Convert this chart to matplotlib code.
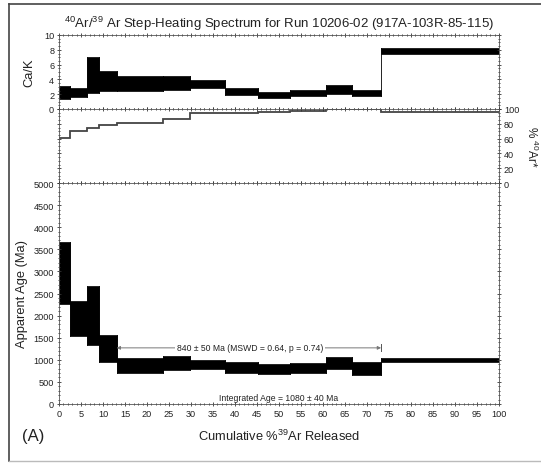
import numpy as np
import matplotlib.pyplot as plt
from matplotlib.patches import Rectangle
from matplotlib.lines import Line2D
from matplotlib.ticker import MultipleLocator

plt.rcParams['font.family'] = ['Liberation Sans', 'DejaVu Sans']
plt.rcParams['mathtext.default'] = 'regular'

# step boundaries, cumulative % 39Ar released
step_edges = [0, 2.5, 6.4, 9.1, 13.1, 23.7, 29.8, 37.7, 45.3, 52.5, 60.7, 66.7, 73.2, 100]
# Ca/K box limits per step
cak_lo = [1.3, 1.6, 2.1, 2.5, 2.5, 2.6, 2.8, 1.9, 1.5, 1.8, 2.0, 1.7, 7.5]
cak_hi = [3.1, 2.9, 7.0, 5.1, 4.5, 4.4, 3.9, 2.9, 2.3, 2.6, 3.3, 2.6, 8.2]
# % radiogenic 40Ar per step
ar_rad = [61, 70.5, 75, 78, 81, 86, 94, 94, 95.5, 97, 99.5, 99.5, 96.5]
# apparent age box limits per step (Ma)
age_lo = [2270, 1540, 1330, 950, 700, 770, 800, 710, 680, 710, 785, 650, 950]
age_hi = [3670, 2320, 2660, 1570, 1040, 1080, 1000, 960, 900, 920, 1060, 945, 1030]

plateau_start, plateau_end, plateau_level = 13.1, 73.2, 1270
plateau_text = "840 ± 50 Ma (MSWD = 0.64, p = 0.74)"
integrated_text = "Integrated Age = 1080 ± 40 Ma"

W, H = 541, 464
fig = plt.figure(figsize=(W / 100, H / 100), dpi=100)

def px_axes(x0, y0, x1, y1):
    return fig.add_axes([x0 / W, 1 - y1 / H, (x1 - x0) / W, (y1 - y0) / H])

ax_ck = px_axes(59, 36, 499, 110)
ax_ar = px_axes(59, 110, 499, 184)
ax_age = px_axes(59, 184, 499, 405)

tick_col = '#333333'
for ax in (ax_ck, ax_ar, ax_age):
    ax.set_xlim(0, 100)
    ax.xaxis.set_major_locator(MultipleLocator(5))
    ax.xaxis.set_minor_locator(MultipleLocator(1))
    ax.tick_params(which='both', direction='inout', top=True, right=True,
                   colors=tick_col, labelsize=6.6, pad=2)
    ax.tick_params(which='major', length=3, width=0.6)
    ax.tick_params(which='minor', length=1.8, width=0.6)
    for s in ax.spines.values():
        s.set_color('#555555')
        s.set_linewidth(0.6)
    ax.tick_params(labelcolor='#222222')

def draw_boxes(ax, lo, hi):
    for i in range(len(lo)):
        x0, x1 = step_edges[i], step_edges[i + 1]
        ax.add_patch(Rectangle((x0, lo[i]), x1 - x0, hi[i] - lo[i],
                               facecolor='black', edgecolor='black', lw=0.5))
        if i < len(lo) - 1:
            ymin = min(lo[i], lo[i + 1])
            ymax = max(hi[i], hi[i + 1])
            ax.plot([x1, x1], [ymin, ymax], color='black', lw=0.6)

# Ca/K panel
ax_ck.set_ylim(0, 10)
ax_ck.yaxis.set_major_locator(MultipleLocator(2))
ax_ck.yaxis.set_minor_locator(MultipleLocator(0.5))
ax_ck.tick_params(labelbottom=False)
draw_boxes(ax_ck, cak_lo, cak_hi)
ax_ck.set_ylabel('Ca/K', fontsize=9.3, color='#222222', labelpad=6)
ax_ck.set_title('$^{40}$Ar/$^{39}$ Ar Step-Heating Spectrum for Run 10206-02 (917A-103R-85-115)',
                fontsize=9.5, color='#222222', pad=6)

# % 40Ar* panel
ax_ar.set_ylim(0, 100)
ax_ar.yaxis.set_major_locator(MultipleLocator(20))
ax_ar.yaxis.set_minor_locator(MultipleLocator(5))
ax_ar.tick_params(labelbottom=False, labelleft=False, labelright=True)
ax_ar.stairs(ar_rad, step_edges, color='#444444', lw=1.3, baseline=None)
ax_ar.text(1.075, 0.5, '% $^{40}$Ar*', transform=ax_ar.transAxes, rotation=-90,
           ha='center', va='center', fontsize=8.5, color='#222222')

# apparent age panel
ax_age.set_ylim(0, 5000)
ax_age.yaxis.set_major_locator(MultipleLocator(500))
ax_age.yaxis.set_minor_locator(MultipleLocator(100))
draw_boxes(ax_age, age_lo, age_hi)
ax_age.set_ylabel('Apparent Age (Ma)', fontsize=9.3, color='#222222', labelpad=4)
ax_age.set_xlabel('Cumulative %$^{39}$Ar Released', fontsize=9.3, color='#222222', labelpad=7)

ax_age.annotate('', xy=(plateau_start, plateau_level), xytext=(plateau_end, plateau_level),
                arrowprops=dict(arrowstyle='<|-|>', color='#777777', lw=0.7,
                                mutation_scale=5, shrinkA=0, shrinkB=0))
ax_age.plot([plateau_end, plateau_end], [plateau_level - 80, plateau_level + 80],
            color='#555555', lw=0.7)
ax_age.text(43.4, plateau_level, plateau_text, ha='center', va='center', fontsize=6.2,
            color='#222222', bbox=dict(facecolor='white', edgecolor='none', pad=1.5))
ax_age.text(50, 40, integrated_text, ha='center', va='bottom', fontsize=6.2, color='#222222')

fig.text(22 / W, 1 - 437 / H, '(A)', fontsize=12, color='#222222', ha='left', va='center')

# outer frame
fig.add_artist(Line2D([9 / W, 9 / W], [1 - 5 / H, 1 - 462 / H], transform=fig.transFigure,
                      color='#444444', lw=1.2))
fig.add_artist(Line2D([9 / W, 1], [1 - 5 / H, 1 - 5 / H], transform=fig.transFigure,
                      color='#444444', lw=1.2))
fig.add_artist(Line2D([9 / W, 1], [1 - 462 / H, 1 - 462 / H], transform=fig.transFigure,
                      color='#bbbbbb', lw=1.0))

fig.savefig('out.png', dpi=100)
